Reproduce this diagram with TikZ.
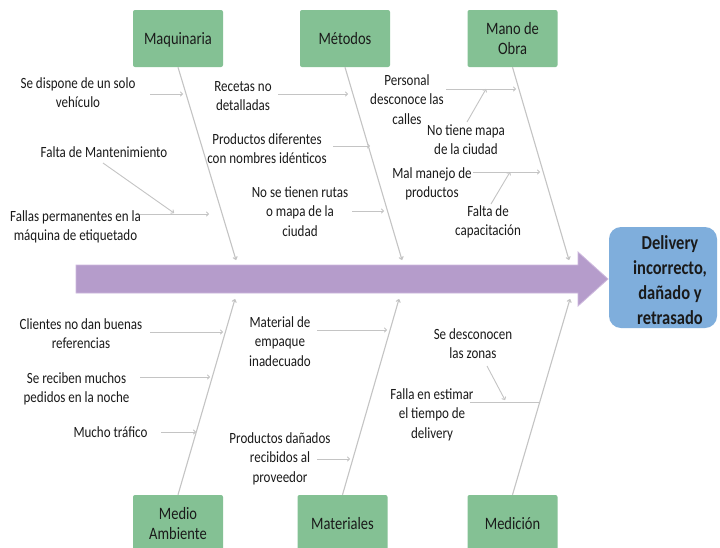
\documentclass[tikz,border=0pt]{standalone}
\usepackage{fontspec}
\usepackage{graphicx}
\setmainfont{Carlito}
\usetikzlibrary{arrows.meta}
\definecolor{boxgreen}{HTML}{84C194}
\definecolor{spine}{HTML}{B59CCB}
\definecolor{spineedge}{HTML}{CDB8DD}
\definecolor{effblue}{HTML}{7FAEDC}
\definecolor{bonegrey}{HTML}{C4C4C4}
\definecolor{txt}{HTML}{1A1A1A}
\newcommand\lbl[1]{\raisebox{-2pt}[\height][\depth]{\scalebox{1}[1.2]{\begin{tabular}{@{}c@{}}#1\end{tabular}}}}
\tikzset{
  cause/.style={font=\fontsize{13}{16.5}\selectfont, inner sep=0pt, text=txt},
  catbox/.style={fill=boxgreen, rounded corners=2pt, minimum width=90pt, minimum height=57pt,
                 font=\fontsize{14.5}{16.7}\selectfont, inner sep=0pt, text=txt},
  effbox/.style={fill=effblue, rounded corners=12pt, minimum width=108pt, minimum height=101pt,
                 font=\bfseries\fontsize{16.5}{20.8}\selectfont, inner sep=0pt, text=txt},
  bone/.style={draw=bonegrey, line width=1.1pt, -{To[length=3.5pt,width=5pt]}},
  sub/.style={draw=bonegrey, line width=0.9pt, -{To[length=3pt,width=5pt]}},
  subplain/.style={draw=bonegrey, line width=0.9pt}
}
\begin{document}
\begin{tikzpicture}[x=1pt,y=-1pt]
\useasboundingbox (0,0) rectangle (720,547);
\clip (0,0) rectangle (720,547);
\fill[white] (0,0) rectangle (720,547);

% spine arrow
\draw[fill=spine, draw=spineedge, line width=0.8pt]
  (76,265) -- (578,265) -- (578,252) -- (608,279) -- (578,306) -- (578,293) -- (76,293) -- cycle;

% effect
\node[effbox] (eff) at (663,277.5) {};
\node[font=\bfseries\fontsize{16.5}{20.8}\selectfont, text=txt, inner sep=0pt] (efft) at (670,280) {\lbl{Delivery\\incorrecto,\\dañado y\\retrasado}};

% category boxes
\node[catbox] (maq) at (178,38.5) {\lbl{Maquinaria}};
\node[catbox] (met) at (345,38.5) {\lbl{Métodos}};
\node[catbox] (mob) at (512.5,38.5) {\lbl{Mano de\\Obra}};
\node[catbox] (mam) at (178,523.5) {\lbl{Medio\\Ambiente}};
\node[catbox] (mat) at (342.5,523.5) {\lbl{Materiales}};
\node[catbox] (med) at (512.5,523.5) {\lbl{Medición}};

% bone ends
\coordinate (maqE) at (236,260);
\coordinate (metE) at (402,260);
\coordinate (mobE) at (569,260);
\coordinate (mamE) at (235,299);
\coordinate (matE) at (399,299);
\coordinate (medE) at (570,299);

\draw[bone] (maq.south) -- (maqE);
\draw[bone] (met.south) -- (metE);
\draw[bone] (mob.south) -- (mobE);
\draw[bone] (mam.north) -- (mamE);
\draw[bone] (mat.north) -- (matE);
\draw[bone] (med.north) -- (medE);

% cause texts
\node[cause] (s1) at (78,92) {\lbl{Se dispone de un solo\\vehículo}};
\node[cause] (s2) at (104,152) {\lbl{Falta de Mantenimiento}};
\node[cause] (s3) at (75.5,225) {\lbl{Fallas permanentes en la\\máquina de etiquetado}};
\node[cause] (m1) at (243,95) {\lbl{Recetas no\\detalladas}};
\node[cause] (m2) at (267,148) {\lbl{Productos diferentes\\con nombres idénticos}};
\node[cause] (m3) at (300,211) {\lbl{No se tienen rutas\\o mapa de la\\ciudad}};
\node[cause] (w1) at (407,99) {\lbl{Personal\\desconoce las\\calles}};
\node[cause] (w2) at (466,139) {\lbl{No tiene mapa\\de la ciudad}};
\node[cause] (w3) at (432,182) {\lbl{Mal manejo de\\productos}};
\node[cause] (w4) at (488,220) {\lbl{Falta de\\capacitación}};
\node[cause] (a1) at (81,333) {\lbl{Clientes no dan buenas\\referencias}};
\node[cause] (a2) at (76.5,387) {\lbl{Se reciben muchos\\pedidos en la noche}};
\node[cause] (a3) at (110.5,432) {\lbl{Mucho tráfico}};
\node[cause] (t1) at (280,341) {\lbl{Material de\\empaque\\inadecuado}};
\node[cause] (t2) at (280,457) {\lbl{Productos dañados\\recibidos al\\proveedor}};
\node[cause] (d1) at (473,343) {\lbl{Se desconocen\\las zonas}};
\node[cause] (d2) at (432,413) {\lbl{Falla en estimar\\el tiempo de\\delivery}};

% sub-cause arrow ends
\coordinate (s1a) at (150,94);  \coordinate (s1b) at (183,94);
\coordinate (s2a) at (103,163); \coordinate (s2b) at (174,213);
\coordinate (s3a) at (140,214); \coordinate (s3b) at (209,214);
\coordinate (m1a) at (278,94);  \coordinate (m1b) at (348,94);
\coordinate (m2a) at (333,146); \coordinate (m2b) at (370,146);
\coordinate (m3a) at (352,211); \coordinate (m3b) at (384,211);
\coordinate (w1a) at (446,89);  \coordinate (w1b) at (516,89);
\coordinate (w2a) at (467,122); \coordinate (w2b) at (486,89);
\coordinate (w3a) at (473,172); \coordinate (w3b) at (540,172);
\coordinate (w4a) at (491,204); \coordinate (w4b) at (510,172);
\coordinate (a1a) at (150,332); \coordinate (a1b) at (223,332);
\coordinate (a2a) at (140,377); \coordinate (a2b) at (210,377);
\coordinate (a3a) at (161,432); \coordinate (a3b) at (196,432);
\coordinate (t1a) at (317,330); \coordinate (t1b) at (387,330);
\coordinate (t2a) at (317,459); \coordinate (t2b) at (350,459);
\coordinate (d1a) at (487,366); \coordinate (d1b) at (505,400);
\coordinate (d2a) at (470,402); \coordinate (d2b) at (539,402);

\draw[sub] (s1a) -- (s1b);
\draw[sub] (s2a) -- (s2b);
\draw[sub] (s3a) -- (s3b);
\draw[sub] (m1a) -- (m1b);
\draw[sub] (m2a) -- (m2b);
\draw[sub] (m3a) -- (m3b);
\draw[sub] (w1a) -- (w1b);
\draw[sub] (w2a) -- (w2b);
\draw[sub] (w3a) -- (w3b);
\draw[sub] (w4a) -- (w4b);
\draw[sub] (a1a) -- (a1b);
\draw[sub] (a2a) -- (a2b);
\draw[sub] (a3a) -- (a3b);
\draw[sub] (t1a) -- (t1b);
\draw[sub] (t2a) -- (t2b);
\draw[sub] (d1a) -- (d1b);
\draw[subplain] (d2a) -- (d2b);
\end{tikzpicture}
\end{document}
